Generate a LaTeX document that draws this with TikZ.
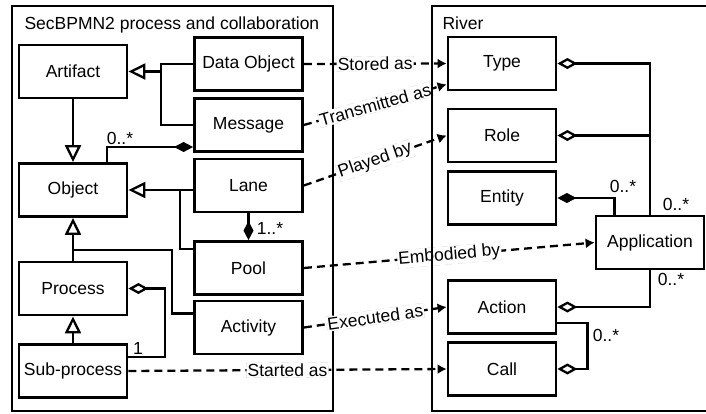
\documentclass[tikz,border=0pt]{standalone}
\usepackage{fontspec}
\setmainfont{Liberation Sans}
\usetikzlibrary{arrows.meta}
\begin{document}
\begin{tikzpicture}[x=1pt,y=-1pt,
  font=\fontsize{17.5}{21}\selectfont,
  box/.style={draw, line width=2.8pt, minimum width=108pt, minimum height=53pt, inner sep=0pt, fill=white},
  frame/.style={draw, line width=2.8pt},
  conn/.style={line width=2.3pt},
  gen/.style={conn, -{Triangle[open,length=17pt,width=16pt]}},
  comp/.style={conn, {Diamond[length=19pt,width=10pt]}-},
  agg/.style={conn, {Diamond[open,length=20pt,width=11pt]}-},
  flow/.style={conn, dash pattern=on 8pt off 5pt, -{Latex[length=9pt,width=10pt]}},
  lbl/.style={fill=white, draw=black!12, line width=0.4pt, inner sep=1pt, sloped},
  mult/.style={inner sep=0pt}
]
\useasboundingbox (0,0) rectangle (706,413);

% left container
\draw[frame] (12,6) rectangle (333,411);
\node[anchor=base west] (ltitle) at (21,29) {SecBPMN2 process and collaboration};
\node[anchor=base west] (rtitle) at (439,29) {River};

% left boxes
\node[box] (art)  at (73,71.5)   {Artifact};
\node[box] (dobj) at (248.5,64)  {Data Object};
\node[box] (msg)  at (248.5,125) {Message};
\node[box] (obj)  at (73,190)    {Object};
\node[box] (lane) at (248.5,185.5) {Lane};
\node[box] (pool) at (248.5,268) {Pool};
\node[box] (act)  at (248.5,327.5) {Activity};
\node[box] (proc) at (73,288.5)  {Process};
\node[box] (sub)  at (73,371)    {Sub-process};

% right boxes
\node[box] (type) at (502,63.5)  {Type};
\node[box] (role) at (502,135.5) {Role};
\node[box] (ent)  at (502,198)   {Entity};
\node[box] (app)  at (650,242.5) {Application};
\node[box] (actn) at (502,307)   {Action};
\node[box] (call) at (502,369)   {Call};

% left structure
\coordinate (jd) at (161,64);
\coordinate (jl) at (180,190);
\coordinate (jp) at (172,250);
\coordinate (jm) at (107,147);
\coordinate (js) at (165,288.5);

\draw[gen] (jd |- art.east) -- (art.east);
\draw[conn] (dobj.west) -- (jd) |- (msg.west);
\draw[comp] (msg.west |- jm) -- (jm) -- (jm |- obj.north);
\node[mult] (m1) at (120,138) {0..*};
\draw[gen] (art.south) -- (obj.north);
\draw[gen] (lane.west |- obj.east) -- (obj.east);
\draw[conn] (jl) |- ([yshift=-9pt]pool.north west);
\draw[comp] (pool.north) -- (lane.south);
\node[mult] (m2) at (270,228) {1..*};
\draw[gen] (proc.north) -- (obj.south);
\draw[conn] (proc.north |- jp) -- (jp) |- ([yshift=-14pt]act.north west);
\draw[gen] (sub.north) -- (proc.south);
\draw[agg] (proc.east) -- (js) |- ([yshift=-14pt]sub.north east);
\node[mult] (m3) at (138,348) {1};

% right structure
\draw[agg] (type.east) -| (app.north);
\draw[agg] (role.east) -- (role.east -| app.north);
\draw[comp] (ent.east) -| ([xshift=20pt]app.north west);
\draw[agg] (actn.east) -| (app.south);
\draw[agg] (call.east) -- ++(30,0) |- ([yshift=12pt]actn.south east);
\node[mult] (m4) at (623,186) {0..*};
\node[mult] (m5) at (676,204) {0..*};
\node[mult] (m6) at (671,279) {0..*};
\node[mult] (m7) at (606,335) {0..*};

% mapping arrows
\draw[flow] (dobj.east) -- (type.west) node[lbl, pos=0.5] (l1) {Stored as};
\draw[flow] (msg.east) -- ([yshift=7pt]type.south west) node[lbl, pos=0.5] (l2) {Transmitted as};
\draw[flow] (lane.east) -- (role.west) node[lbl, pos=0.5] (l3) {Played by};
\draw[flow] (pool.east) -- (app.west) node[lbl, pos=0.5] (l4) {Embodied by};
\draw[flow] (act.east) -- (actn.west) node[lbl, pos=0.5] (l5) {Executed as};
\draw[flow] (sub.east) -- (call.west) node[lbl, pos=0.5] (l6) {Started as};

% right container (drawn on top)
\draw[frame] (712,6) -- (432,6) -- (432,411) -- (712,411);
\end{tikzpicture}
\end{document}
